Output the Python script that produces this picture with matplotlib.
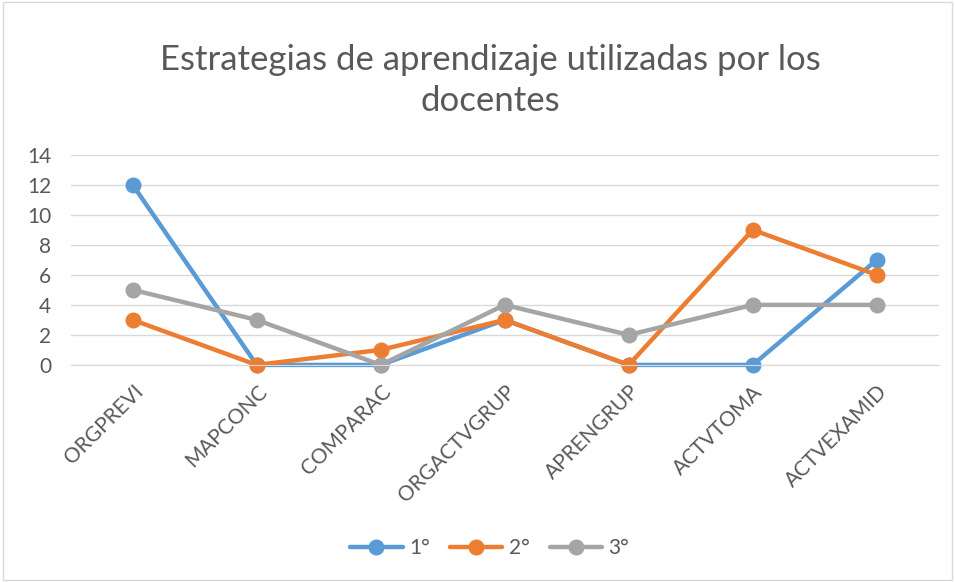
import matplotlib
matplotlib.use("Agg")
import matplotlib.pyplot as plt
from matplotlib.patches import Rectangle

categories = ["ORGPREVI", "MAPCONC", "COMPARAC", "ORGACTVGRUP", "APRENGRUP", "ACTVTOMA", "ACTVEXAMID"]
s1 = [12, 0, 0, 3, 0, 0, 7]
s2 = [3, 0, 1, 3, 0, 9, 6]
s3 = [5, 3, 0, 4, 2, 4, 4]
series_names = ["1°", "2°", "3°"]
colors = ["#5b9bd5", "#ed7d31", "#a5a5a5"]
yticks = [0, 2, 4, 6, 8, 10, 12, 14]

plt.rcParams['font.family'] = ['Lato', 'DejaVu Sans']

fig = plt.figure(figsize=(9.55, 5.82), dpi=100)
fig.patches.append(Rectangle((0.003, 0.003), 0.994, 0.994, transform=fig.transFigure,
                             fill=False, edgecolor="#d9d9d9", linewidth=1))
ax = fig.add_axes([0.074, 0.373, 0.909, 0.361])

x = list(range(len(categories)))
for vals, name, c in zip([s1, s2, s3], series_names, colors):
    ax.plot(x, vals, color=c, linewidth=3.2, marker='o', markersize=10.5, label=name,
            solid_capstyle='round', clip_on=False)

ax.set_xlim(-0.5, len(categories) - 0.5)
ax.set_ylim(0, 14)
ax.set_yticks(yticks)
ax.yaxis.grid(True, color="#d9d9d9", linewidth=1)
ax.set_axisbelow(True)
for sp in ["top", "right", "left"]:
    ax.spines[sp].set_visible(False)
ax.spines["bottom"].set_color("#d9d9d9")
ax.tick_params(axis='both', length=0, colors="#595959", labelsize=15)
ax.tick_params(axis='y', pad=14)
ax.set_xticks(x)
ax.set_xticklabels(categories, rotation=45, ha='right', rotation_mode='anchor')
ax.tick_params(axis='x', pad=12)

fig.text(0.513, 0.897, "Estrategias de aprendizaje utilizadas por los", ha='center', va='center',
         fontsize=25, color="#595959")
fig.text(0.513, 0.826, "docentes", ha='center', va='center', fontsize=25, color="#595959")

leg = fig.legend(loc='center', bbox_to_anchor=(0.513, 0.058), ncol=3, frameon=False,
                 fontsize=15, handlelength=2.5, columnspacing=1.0, handletextpad=0.3)
for t in leg.get_texts():
    t.set_color("#595959")

fig.savefig("out.png", dpi=100)
